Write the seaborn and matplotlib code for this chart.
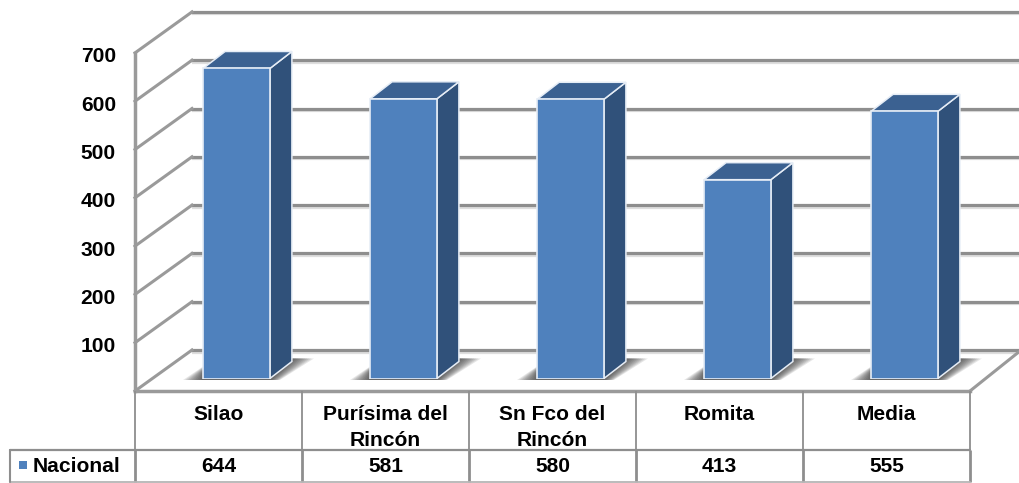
#!/usr/bin/env python3
"""3D style bar chart with data table, drawn with seaborn bars on a pixel sized figure"""

import matplotlib
matplotlib.use("Agg")
import matplotlib.pyplot as plt
from matplotlib.patches import Polygon
import pandas as pd
import seaborn as sns

categories = ["Silao", "Purísima del\nRincón", "Sn Fco del\nRincón", "Romita", "Media"]
nacional = [644, 581, 580, 413, 555]
y_ticks = [100, 200, 300, 400, 500, 600, 700]
series_name = "Nacional"

W, H = 1020, 483
FRONT = "#4f81bd"
SIDE = "#30517a"
TOP = "#3b6191"
EDGE = "#e6edf6"
LINE = "#8e8e8e"
LINE_SOFT = "#dedede"
FS = 15.1

# pixel geometry of the fake perspective
FLOOR_FRONT_Y = 391
FLOOR_BACK_Y = 350
LEFT_X = 135
BACK_X = 192
TABLE_X = [135, 302, 469, 636, 803, 970]
PX_PER_UNIT = 0.483
DEPTH_X, DEPTH_Y = 22, 17

sns.set_theme(style="white")
plt.rcParams["font.family"] = ["Liberation Sans", "DejaVu Sans"]
plt.rcParams["font.weight"] = "bold"

fig = plt.figure(figsize=(W / 100, H / 100), dpi=100, facecolor="white")

# background axes in pixel coords for walls and table
bg = fig.add_axes([0, 0, 1, 1], zorder=0)
bg.set_xlim(0, W)
bg.set_ylim(H, 0)
bg.axis("off")


def line(xs, ys, lw=1.9, color=LINE, soft=True):
    if soft:
        bg.plot(xs, [y + 2.5 for y in ys], color=LINE_SOFT, lw=1.6, solid_capstyle="butt")
    bg.plot(xs, ys, color=color, lw=lw, solid_capstyle="projecting")


for v in [0] + y_ticks:
    rise = v * PX_PER_UNIT
    line([BACK_X, W], [FLOOR_BACK_Y - rise] * 2, lw=2.3)
    line([LEFT_X, BACK_X], [FLOOR_FRONT_Y - rise, FLOOR_BACK_Y - rise], lw=2.2, color="#9a9a9a", soft=False)

# floor edge and y axis
line([TABLE_X[-1], W], [FLOOR_FRONT_Y, FLOOR_BACK_Y + 1], lw=2.2, color="#9a9a9a", soft=False)
line([LEFT_X, LEFT_X], [FLOOR_FRONT_Y, FLOOR_FRONT_Y - 700 * PX_PER_UNIT], lw=2.5, color="#9a9a9a", soft=False)
line([LEFT_X, TABLE_X[-1]], [FLOOR_FRONT_Y, FLOOR_FRONT_Y], lw=2.5, color="#9a9a9a", soft=False)

for v in y_ticks:
    bg.text(116, FLOOR_FRONT_Y - v * PX_PER_UNIT + 4, str(v), ha="right", va="center",
            fontsize=FS, color="black")

# data table
ROW_Y = 450
BOTTOM_Y = 482
for x in TABLE_X:
    bg.plot([x, x], [FLOOR_FRONT_Y, ROW_Y], color=LINE, lw=1.3, solid_capstyle="butt")
    bg.plot([x, x], [ROW_Y, BOTTOM_Y], color=LINE, lw=2.0, solid_capstyle="butt")
bg.plot([10, 970], [ROW_Y, ROW_Y], color=LINE, lw=1.6)
bg.plot([10, 970], [BOTTOM_Y, BOTTOM_Y], color="#b5b5b5", lw=1.3)
bg.plot([10, 10], [ROW_Y, BOTTOM_Y], color=LINE, lw=1.5)
bg.add_patch(plt.Rectangle((19, 461), 8, 8, color=FRONT, lw=0))
bg.text(33, 467, series_name, ha="left", va="center", fontsize=FS, color="black")
for i, (cat, val) in enumerate(zip(categories, nacional)):
    cx = (TABLE_X[i] + TABLE_X[i + 1]) / 2
    bg.text(cx, 405.5, cat, ha="center", va="top", fontsize=FS, color="black", linespacing=1.42)
    bg.text(cx, 467, str(val), ha="center", va="center", fontsize=FS, color="black")

# bar axes: same pixel scale as the walls, shifted into the middle of the depth
BAR_LEFT = 153
BAR_RIGHT = 988
BASE_Y = 378.5
TOP_VALUE = 700
ax = fig.add_axes([BAR_LEFT / W, (H - BASE_Y) / H, (BAR_RIGHT - BAR_LEFT) / W,
                   TOP_VALUE * 0.4814 / H], zorder=1)
ax.patch.set_alpha(0)

df = pd.DataFrame({"categoria": categories, "valor": nacional})
sns.barplot(data=df, x="categoria", y="valor", color=FRONT, saturation=1, width=0.40,
            ax=ax, edgecolor=EDGE, linewidth=1.2, zorder=3)
ax.set_xlim(-0.5, 4.5)
ax.set_ylim(0, TOP_VALUE)
ax.axis("off")

# pixel to data units
ux = 1 / 167
uy = 1 / 0.4814
dx = DEPTH_X * ux
dy = DEPTH_Y * uy

for bar in ax.patches[:len(categories)]:
    x0, x1 = bar.get_x(), bar.get_x() + bar.get_width()
    h = bar.get_height()
    # soft floor shadow, stacked translucent polygons
    for spread in range(20, 0, -2):
        sx = spread * ux
        ax.add_patch(Polygon(
            [(x0 - sx, -1.5 * uy), (x1 + 0.5 * sx, -1.5 * uy), (x1 + dx + 1.1 * sx, dy + 3 * uy),
             (x1 + dx, dy + 3 * uy), (x1, 14 * uy), (x0, (7 + spread * 0.25) * uy)],
            closed=True, facecolor="#333333", edgecolor="none", alpha=0.12,
            zorder=1.5, clip_on=False))
    ax.add_patch(Polygon([(x1, 0), (x1 + dx, dy), (x1 + dx, h + dy), (x1, h)], closed=True,
                         facecolor=SIDE, edgecolor=EDGE, lw=1.1, zorder=2.5, clip_on=False))
    ax.add_patch(Polygon([(x0, h), (x1, h), (x1 + dx, h + dy), (x0 + dx, h + dy)], closed=True,
                         facecolor=TOP, edgecolor=EDGE, lw=1.1, zorder=2.6, clip_on=False))

fig.savefig("out.png", dpi=100)
